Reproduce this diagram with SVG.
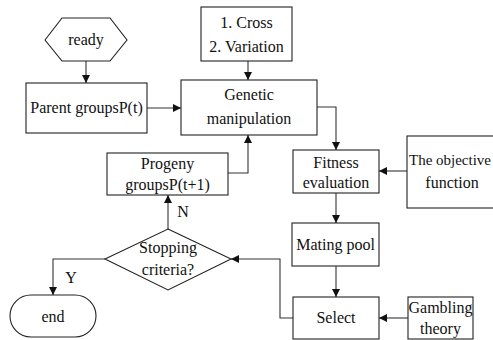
<svg xmlns="http://www.w3.org/2000/svg" width="493" height="340" viewBox="0 0 493 340">
<style>
.n{fill:#fff;stroke:#222;stroke-width:1.1}
.t{font-family:"Liberation Serif","Times New Roman",serif;font-size:16px;fill:#111;text-anchor:middle}
.c{fill:none;stroke:#333;stroke-width:1.1;marker-end:url(#a)}
</style>
<defs>
<marker id="a" viewBox="0 0 10 10" refX="10" refY="5" markerWidth="8" markerHeight="8" markerUnits="userSpaceOnUse" orient="auto">
<path d="M0,0 L10,5 L0,10 Z" fill="#111"/>
</marker>
</defs>
<rect width="493" height="340" fill="#fff"/>
<g id="connectors">
<path class="c" d="M86,61 V83"/>
<path class="c" d="M147,108 H181"/>
<path class="c" d="M248,61 V80"/>
<path class="c" d="M317,107 H336 V150"/>
<path class="c" d="M407,171 H379"/>
<path class="c" d="M336,193 V223"/>
<path class="c" d="M336,266 V297"/>
<path class="c" d="M408,318 H379"/>
<path class="c" d="M293,318 H280 V259 H231"/>
<path class="c" d="M168,229 V195"/>
<path class="c" d="M228,173 H248 V135"/>
<path class="c" d="M105,259 H53 V295"/>
<text class="t" x="183" y="217">N</text>
<text class="t" x="71" y="283">Y</text>
</g>
<g id="ready">
<polygon class="n" points="45,40 62,18 110,18 127,40 110,61 62,61"/>
<text class="t" x="86" y="45">ready</text>
</g>
<g id="parent">
<rect class="n" x="26" y="83" width="121" height="50"/>
<text class="t" x="86.5" y="113">Parent groupsP(t)</text>
</g>
<g id="cross">
<rect class="n" x="201" y="7" width="91" height="54"/>
<text class="t" x="246.5" y="28">1. Cross</text>
<text class="t" x="246.5" y="52">2. Variation</text>
</g>
<g id="genetic">
<rect class="n" x="181" y="80" width="136" height="55"/>
<text class="t" x="249" y="100">Genetic</text>
<text class="t" x="249" y="124">manipulation</text>
</g>
<g id="fitness">
<rect class="n" x="293" y="150" width="86" height="43"/>
<text class="t" x="336" y="168">Fitness</text>
<text class="t" x="336" y="188">evaluation</text>
</g>
<g id="objective">
<rect class="n" x="407" y="136" width="94" height="72"/>
<text class="t" x="450" y="165" style="font-size:15px">The objective</text>
<text class="t" x="452" y="188">function</text>
</g>
<g id="mating">
<rect class="n" x="292" y="223" width="87" height="43"/>
<text class="t" x="335.5" y="250">Mating pool</text>
</g>
<g id="select">
<rect class="n" x="293" y="297" width="86" height="42"/>
<text class="t" x="336" y="323">Select</text>
</g>
<g id="gambling">
<rect class="n" x="408" y="297" width="65" height="42"/>
<text class="t" x="440.5" y="313">Gambling</text>
<text class="t" x="440.5" y="334">theory</text>
</g>
<g id="progeny">
<rect class="n" x="107" y="153" width="121" height="42"/>
<text class="t" x="167.5" y="169">Progeny</text>
<text class="t" x="167.5" y="190">groupsP(t+1)</text>
</g>
<g id="stopping">
<polygon class="n" points="168,229 231,259 168,290 105,259"/>
<text class="t" x="168" y="253">Stopping</text>
<text class="t" x="168" y="275">criteria?</text>
</g>
<g id="end">
<rect class="n" x="10" y="295" width="86" height="42" rx="21" ry="21"/>
<text class="t" x="53" y="322">end</text>
</g>
</svg>
